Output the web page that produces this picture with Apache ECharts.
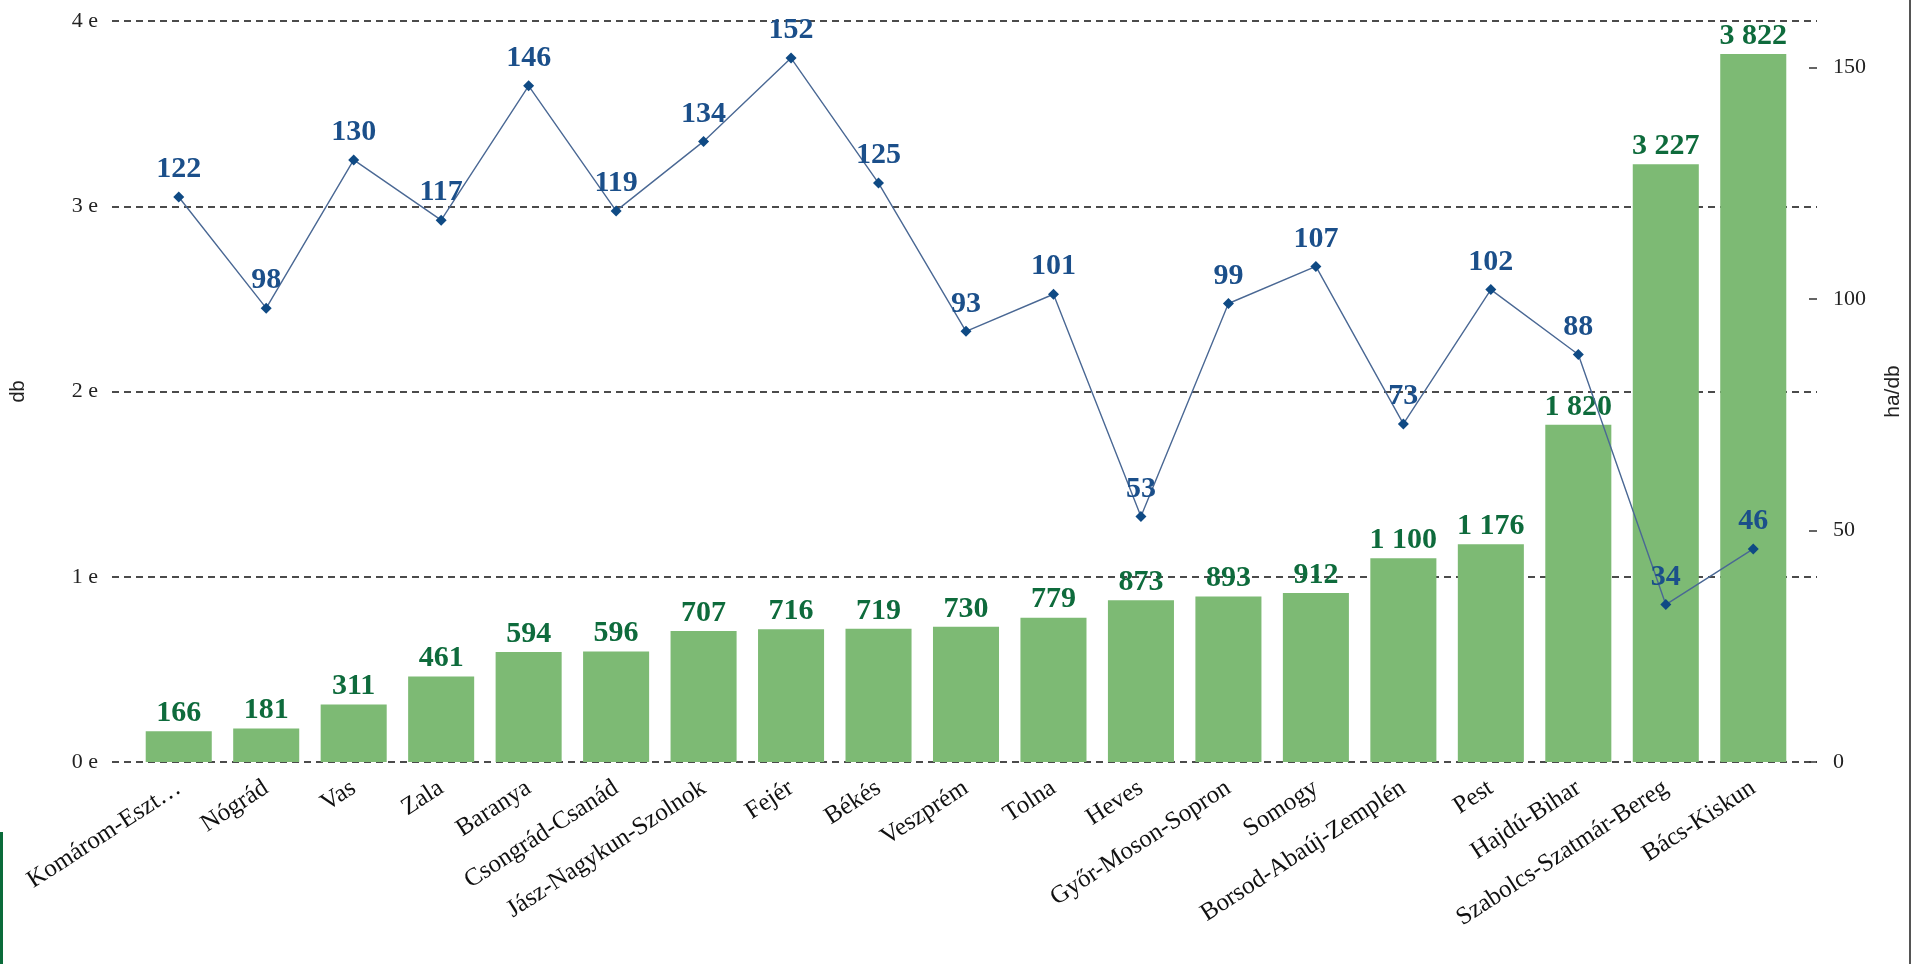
<!DOCTYPE html>
<html>
<head>
<meta charset="utf-8">
<script src="https://cdn.jsdelivr.net/npm/echarts@6/dist/echarts.min.js"></script>
<style>
  html, body { margin: 0; padding: 0; background: #fff; }
  #main { width: 1915px; height: 964px; }
</style>
</head>
<body>
<div id="main"></div>
<script>
// megyék
var counties = ['Komárom-Eszt…', 'Nógrád', 'Vas', 'Zala', 'Baranya', 'Csongrád-Csanád',
  'Jász-Nagykun-Szolnok', 'Fejér', 'Békés', 'Veszprém', 'Tolna', 'Heves',
  'Győr-Moson-Sopron', 'Somogy', 'Borsod-Abaúj-Zemplén', 'Pest', 'Hajdú-Bihar',
  'Szabolcs-Szatmár-Bereg', 'Bács-Kiskun']
// darabszám (db)
var dbValues = [166, 181, 311, 461, 594, 596, 707, 716, 719, 730, 779, 873, 893, 912, 1100, 1176, 1820, 3227, 3822]
// átlagos méret (ha/db)
var haPerDb = [122, 98, 130, 117, 146, 119, 134, 152, 125, 93, 101, 53, 99, 107, 73, 102, 88, 34, 46]
var rightTicks = [0, 50, 100, 150]

var serif = '"Liberation Serif", "Times New Roman", serif'

function thousands (v) {
  return String(v).replace(/\B(?=(\d{3})+(?!\d))/g, ' ')
}

var myChart = echarts.init(document.getElementById('main'))
myChart.setOption({
  animation: false,
  grid: [
    // szaggatott vonalak és tengelyfeliratok
    { left: 110, right: 98, top: 21, bottom: 202 },
    // oszlopok és vonal
    { left: 135, right: 118, top: 21, bottom: 202 }
  ],
  xAxis: [
    { type: 'value', gridIndex: 0, show: false, min: 0, max: 1 },
    {
      type: 'category',
      gridIndex: 1,
      data: counties,
      axisLine: { show: false },
      axisTick: { show: false },
      axisLabel: {
        rotate: 33,
        margin: 24,
        interval: 0,
        fontFamily: serif,
        fontSize: 25,
        color: '#111'
      }
    }
  ],
  yAxis: [
    {
      type: 'value',
      gridIndex: 0,
      min: 0,
      max: 4000,
      interval: 1000,
      name: 'db',
      nameLocation: 'middle',
      nameRotate: 90,
      nameGap: 84,
      nameTextStyle: { fontFamily: '"Liberation Sans", Arial, sans-serif', fontSize: 20, color: '#222' },
      axisLine: { show: false },
      axisTick: { show: false },
      axisLabel: {
        margin: 14,
        fontFamily: serif,
        fontSize: 22,
        color: '#222',
        formatter: function (v) { return (v / 1000) + ' e' }
      },
      splitLine: {
        show: true,
        lineStyle: { type: [7, 5], color: '#111', width: 1.5 }
      }
    },
    {
      type: 'value',
      gridIndex: 0,
      position: 'right',
      min: 0,
      max: 160,
      interval: 50,
      name: 'ha/db',
      nameLocation: 'middle',
      nameRotate: 90,
      nameGap: 66,
      nameTextStyle: { fontFamily: '"Liberation Sans Narrow", "Liberation Sans", Arial, sans-serif', fontSize: 21, color: '#222' },
      axisLine: { show: false },
      axisTick: {
        show: true,
        inside: true,
        length: 8,
        customValues: rightTicks,
        lineStyle: { color: '#333', width: 1.5 }
      },
      axisLabel: {
        margin: 16,
        fontFamily: serif,
        fontSize: 22,
        color: '#222',
        customValues: rightTicks
      },
      splitLine: { show: false }
    },
    { type: 'value', gridIndex: 1, min: 0, max: 4000, show: false },
    { type: 'value', gridIndex: 1, min: 0, max: 160, show: false }
  ],
  series: [
    {
      name: 'db',
      type: 'bar',
      xAxisIndex: 1,
      yAxisIndex: 2,
      barWidth: '75.5%',
      data: dbValues,
      itemStyle: { color: '#7dba74' },
      label: {
        show: true,
        position: 'top',
        distance: 3,
        fontFamily: serif,
        fontWeight: 'bold',
        fontSize: 30,
        color: '#0e6b3c',
        formatter: function (p) { return thousands(p.value) }
      },
      z: 2
    },
    {
      name: 'ha/db',
      type: 'line',
      xAxisIndex: 1,
      yAxisIndex: 3,
      data: haPerDb,
      symbol: 'diamond',
      symbolSize: 11,
      lineStyle: { color: '#4a6894', width: 1.4 },
      itemStyle: { color: '#0f4a84' },
      label: {
        show: true,
        position: 'top',
        distance: 7,
        fontFamily: serif,
        fontWeight: 'bold',
        fontSize: 30,
        color: '#1b4f8a'
      },
      z: 3
    }
  ],
  graphic: [
    {
      type: 'rect',
      shape: { x: 1909, y: 0, width: 2, height: 964 },
      style: { fill: '#555' },
      silent: true
    },
    {
      type: 'rect',
      shape: { x: 0, y: 832, width: 3, height: 132 },
      style: { fill: '#0a6b3a' },
      silent: true
    }
  ]
})
</script>
</body>
</html>
